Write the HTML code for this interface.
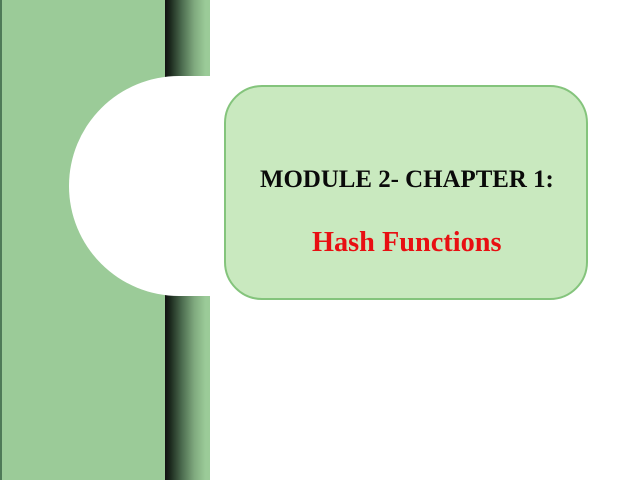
<!DOCTYPE html>
<html>
<head>
<meta charset="utf-8">
<style>
html,body{margin:0;padding:0;background:#fff}
#p{position:relative;width:640px;height:480px;overflow:hidden;background:#fff;font-family:"Liberation Serif",serif}
#p div{position:absolute}
.t{white-space:nowrap;font-weight:bold}
</style>
</head>
<body>
<div id="p">
<div style="left:0;top:0;width:166px;height:480px;background:#9bcb98"></div>
<div style="left:0;top:0;width:2px;height:480px;background:#4f7a58"></div>
<div style="left:165px;top:0;width:45px;height:480px;background:linear-gradient(90deg,#111 0%,#1c2a1e 12%,#4d6d50 38%,#7fa97e 65%,#9bcb98 90%)"></div>
<div style="left:69px;top:76px;width:220px;height:220px;border-radius:50%;background:#fff"></div>
<div style="left:179px;top:76px;width:60px;height:220px;background:#fff"></div>
<div style="left:210px;top:0;width:430px;height:480px;background:#fff"></div>
<div style="left:224px;top:85px;width:360px;height:211px;border:2px solid #84c47c;border-radius:38px;background:#c9e9bf"></div>
<div class="t" style="left:260px;top:165px;font-size:24.9px;line-height:30px;color:#0a0a0a">MODULE 2- CHAPTER 1:</div>
<div class="t" style="left:312px;top:227px;font-size:28.3px;line-height:32px;color:#e80f12">Hash Functions</div>
</div>
</body>
</html>
